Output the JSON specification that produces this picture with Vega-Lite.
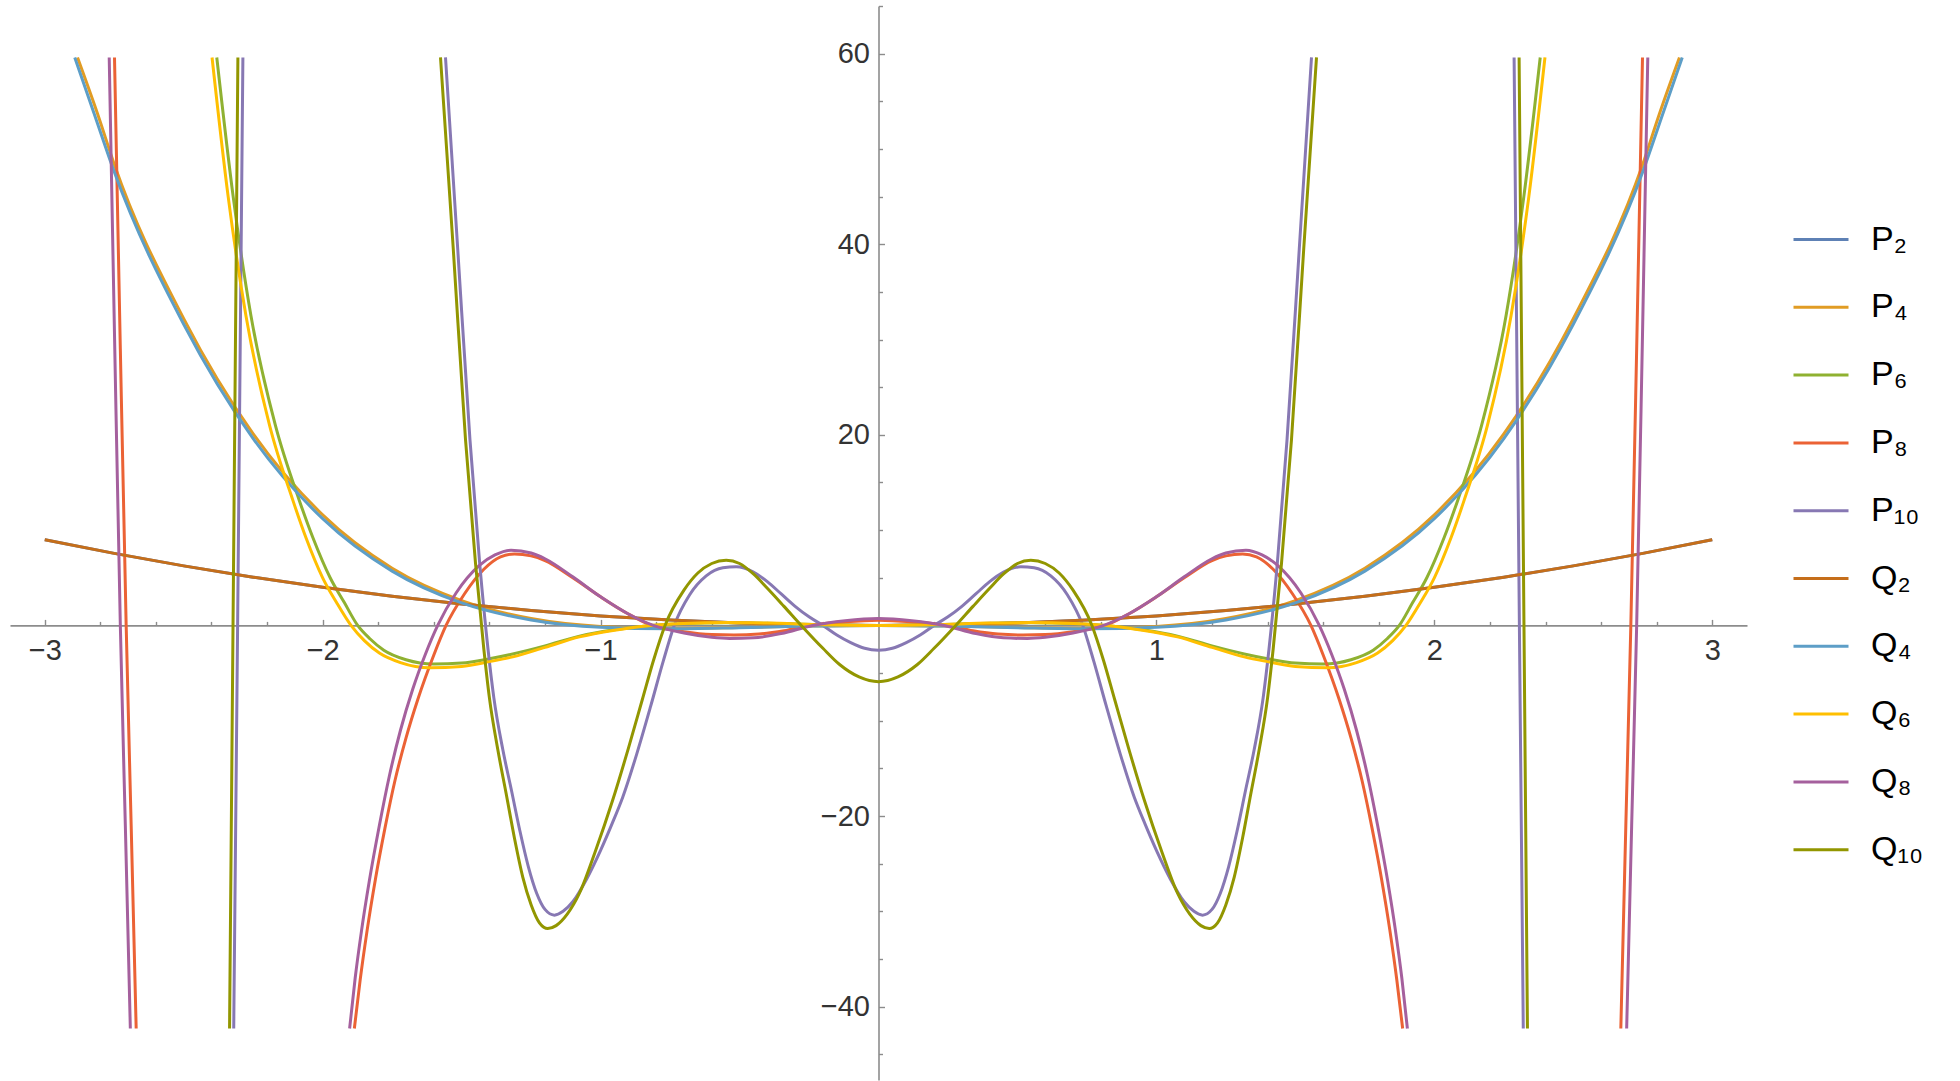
{
"$schema":"https://vega.github.io/schema/vega-lite/v6.json",
"width":1737,"height":1074,
"autosize":{"type":"none"},
"padding":{"left":10,"top":6,"right":213,"bottom":1},
"background":"white",
"config":{"view":{"stroke":null},"axis":{"grid":false,"title":null,"domainColor":"#8c8c8c","tickColor":"#8c8c8c","domainWidth":1.6,"tickWidth":1.4,"labelFont":"Liberation Sans","labelColor":"#333333","labelFontSize":29}},
"resolve":{"axis":{"x":"independent","y":"independent"}},
"layer":[
{"data":{"values":[{"a":0,"b":0}]},"mark":{"type":"point","opacity":0},
"encoding":{
"x":{"field":"a","type":"quantitative","scale":{"domain":[-3.125,3.125],"nice":false,"zero":false},"axis":{"orient":"top","offset":-619.4,"domain":false,"labels":false,"ticks":true,"tickSize":4,"values":[-2.8,-2.6,-2.4,-2.2,-1.8,-1.6,-1.4,-1.2,-0.8,-0.6,-0.4,-0.2,0.2,0.4,0.6,0.8,1.2,1.4,1.6,1.8,2.2,2.4,2.6,2.8]}},
"y":{"field":"b","type":"quantitative","scale":{"domain":[-47.7,65],"nice":false,"zero":false},"axis":{"orient":"right","offset":-868.5,"domain":false,"labels":false,"ticks":true,"tickSize":4,"values":[-45,-35,-30,-25,-15,-10,-5,5,10,15,25,30,35,45,50,55,65]}}}},
{"data":{"values":[{"a":0,"b":0}]},"mark":{"type":"point","opacity":0},
"encoding":{
"x":{"field":"a","type":"quantitative","scale":{"domain":[-3.125,3.125],"nice":false,"zero":false},"axis":{"orient":"top","offset":-619.4,"domain":false,"labels":false,"ticks":true,"tickSize":6,"values":[-3,-2,-1,1,2,3]}},
"y":{"field":"b","type":"quantitative","scale":{"domain":[-47.7,65],"nice":false,"zero":false},"axis":{"orient":"right","offset":-868.5,"domain":false,"labels":false,"ticks":true,"tickSize":6,"values":[-40,-20,20,40,60]}}}},
{"data":{"values":[
{"s":"P₂","g":1,"x":-3,"y":9},{"s":"P₂","g":1,"x":-2.75,"y":7.5625},{"s":"P₂","g":1,"x":-2.5,"y":6.25},{"s":"P₂","g":1,"x":-2.25,"y":5.0625},{"s":"P₂","g":1,"x":-2,"y":4},{"s":"P₂","g":1,"x":-1.75,"y":3.0625},{"s":"P₂","g":1,"x":-1.5,"y":2.25},{"s":"P₂","g":1,"x":-1.25,"y":1.5625},{"s":"P₂","g":1,"x":-1,"y":1},{"s":"P₂","g":1,"x":-0.75,"y":0.5625},{"s":"P₂","g":1,"x":-0.5,"y":0.25},{"s":"P₂","g":1,"x":-0.25,"y":0.0625},{"s":"P₂","g":1,"x":0,"y":0},{"s":"P₂","g":1,"x":0.25,"y":0.0625},{"s":"P₂","g":1,"x":0.5,"y":0.25},{"s":"P₂","g":1,"x":0.75,"y":0.5625},{"s":"P₂","g":1,"x":1,"y":1},{"s":"P₂","g":1,"x":1.25,"y":1.5625},{"s":"P₂","g":1,"x":1.5,"y":2.25},{"s":"P₂","g":1,"x":1.75,"y":3.0625},{"s":"P₂","g":1,"x":2,"y":4},{"s":"P₂","g":1,"x":2.25,"y":5.0625},{"s":"P₂","g":1,"x":2.5,"y":6.25},{"s":"P₂","g":1,"x":2.75,"y":7.5625},{"s":"P₂","g":1,"x":3,"y":9},
{"s":"P₄","g":1,"x":-2.882,"y":59.6},{"s":"P₄","g":1,"x":-2.81,"y":53.7},{"s":"P₄","g":1,"x":-2.75,"y":48.4},{"s":"P₄","g":1,"x":-2.5,"y":32.2},{"s":"P₄","g":1,"x":-2.25,"y":20.1},{"s":"P₄","g":1,"x":-2,"y":11.6},{"s":"P₄","g":1,"x":-1.75,"y":6.0},{"s":"P₄","g":1,"x":-1.5,"y":2.6},{"s":"P₄","g":1,"x":-1.25,"y":0.73},{"s":"P₄","g":1,"x":-1,"y":-0.1},{"s":"P₄","g":1,"x":-0.75,"y":-0.3},{"s":"P₄","g":1,"x":-0.5,"y":-0.22},{"s":"P₄","g":1,"x":-0.25,"y":-0.06},{"s":"P₄","g":1,"x":0,"y":0},{"s":"P₄","g":1,"x":0.25,"y":-0.06},{"s":"P₄","g":1,"x":0.5,"y":-0.22},{"s":"P₄","g":1,"x":0.75,"y":-0.3},{"s":"P₄","g":1,"x":1,"y":-0.1},{"s":"P₄","g":1,"x":1.25,"y":0.73},{"s":"P₄","g":1,"x":1.5,"y":2.6},{"s":"P₄","g":1,"x":1.75,"y":6.0},{"s":"P₄","g":1,"x":2,"y":11.6},{"s":"P₄","g":1,"x":2.25,"y":20.1},{"s":"P₄","g":1,"x":2.5,"y":32.2},{"s":"P₄","g":1,"x":2.75,"y":48.4},{"s":"P₄","g":1,"x":2.81,"y":53.7},{"s":"P₄","g":1,"x":2.882,"y":59.6},
{"s":"P₆","g":1,"x":-2.381,"y":59.6},{"s":"P₆","g":1,"x":-2.322,"y":45},{"s":"P₆","g":1,"x":-2.258,"y":32.5},{"s":"P₆","g":1,"x":-2.17,"y":21},{"s":"P₆","g":1,"x":-2.085,"y":13.2},{"s":"P₆","g":1,"x":-2.035,"y":9.2},{"s":"P₆","g":1,"x":-1.973,"y":5.0},{"s":"P₆","g":1,"x":-1.922,"y":2.4},{"s":"P₆","g":1,"x":-1.874,"y":0},{"s":"P₆","g":1,"x":-1.83,"y":-1.4},{"s":"P₆","g":1,"x":-1.78,"y":-2.6},{"s":"P₆","g":1,"x":-1.7,"y":-3.6},{"s":"P₆","g":1,"x":-1.6,"y":-4.05},{"s":"P₆","g":1,"x":-1.5,"y":-3.95},{"s":"P₆","g":1,"x":-1.4,"y":-3.5},{"s":"P₆","g":1,"x":-1.316,"y":-3.0},{"s":"P₆","g":1,"x":-1.2,"y":-2.15},{"s":"P₆","g":1,"x":-1.076,"y":-1.12},{"s":"P₆","g":1,"x":-0.95,"y":-0.45},{"s":"P₆","g":1,"x":-0.836,"y":-0.05},{"s":"P₆","g":1,"x":-0.7,"y":0.2},{"s":"P₆","g":1,"x":-0.55,"y":0.28},{"s":"P₆","g":1,"x":-0.4,"y":0.23},{"s":"P₆","g":1,"x":-0.2,"y":0.07},{"s":"P₆","g":1,"x":0,"y":0},{"s":"P₆","g":1,"x":0.2,"y":0.07},{"s":"P₆","g":1,"x":0.4,"y":0.23},{"s":"P₆","g":1,"x":0.55,"y":0.28},{"s":"P₆","g":1,"x":0.7,"y":0.2},{"s":"P₆","g":1,"x":0.836,"y":-0.05},{"s":"P₆","g":1,"x":0.95,"y":-0.45},{"s":"P₆","g":1,"x":1.076,"y":-1.12},{"s":"P₆","g":1,"x":1.2,"y":-2.15},{"s":"P₆","g":1,"x":1.316,"y":-3.0},{"s":"P₆","g":1,"x":1.4,"y":-3.5},{"s":"P₆","g":1,"x":1.5,"y":-3.95},{"s":"P₆","g":1,"x":1.6,"y":-4.05},{"s":"P₆","g":1,"x":1.7,"y":-3.6},{"s":"P₆","g":1,"x":1.78,"y":-2.6},{"s":"P₆","g":1,"x":1.83,"y":-1.4},{"s":"P₆","g":1,"x":1.874,"y":0},{"s":"P₆","g":1,"x":1.922,"y":2.4},{"s":"P₆","g":1,"x":1.973,"y":5.0},{"s":"P₆","g":1,"x":2.035,"y":9.2},{"s":"P₆","g":1,"x":2.085,"y":13.2},{"s":"P₆","g":1,"x":2.17,"y":21},{"s":"P₆","g":1,"x":2.258,"y":32.5},{"s":"P₆","g":1,"x":2.322,"y":45},{"s":"P₆","g":1,"x":2.381,"y":59.6},
{"s":"P₈","g":1,"x":-2.749,"y":59.6},{"s":"P₈","g":1,"x":-2.728,"y":29},{"s":"P₈","g":1,"x":-2.707,"y":0},{"s":"P₈","g":1,"x":-2.689,"y":-21},{"s":"P₈","g":1,"x":-2.671,"y":-42.3},
{"s":"P₈","g":2,"x":-1.886,"y":-42.3},{"s":"P₈","g":2,"x":-1.865,"y":-37.2},{"s":"P₈","g":2,"x":-1.84,"y":-32.0},{"s":"P₈","g":2,"x":-1.81,"y":-26.6},{"s":"P₈","g":2,"x":-1.776,"y":-21.3},{"s":"P₈","g":2,"x":-1.74,"y":-16.3},{"s":"P₈","g":2,"x":-1.7,"y":-11.8},{"s":"P₈","g":2,"x":-1.658,"y":-7.8},{"s":"P₈","g":2,"x":-1.6,"y":-3.1},{"s":"P₈","g":2,"x":-1.556,"y":0},{"s":"P₈","g":2,"x":-1.49,"y":3.3},{"s":"P₈","g":2,"x":-1.42,"y":5.9},{"s":"P₈","g":2,"x":-1.36,"y":7.2},{"s":"P₈","g":2,"x":-1.31,"y":7.5},{"s":"P₈","g":2,"x":-1.25,"y":7.3},{"s":"P₈","g":2,"x":-1.2,"y":6.8},{"s":"P₈","g":2,"x":-1.1,"y":5.0},{"s":"P₈","g":2,"x":-1.0,"y":3.0},{"s":"P₈","g":2,"x":-0.9,"y":1.2},{"s":"P₈","g":2,"x":-0.815,"y":0},{"s":"P₈","g":2,"x":-0.7,"y":-0.65},{"s":"P₈","g":2,"x":-0.6,"y":-0.95},{"s":"P₈","g":2,"x":-0.52,"y":-1.0},{"s":"P₈","g":2,"x":-0.43,"y":-0.9},{"s":"P₈","g":2,"x":-0.34,"y":-0.55},{"s":"P₈","g":2,"x":-0.25,"y":0},{"s":"P₈","g":2,"x":-0.12,"y":0.38},{"s":"P₈","g":2,"x":0,"y":0.55},{"s":"P₈","g":2,"x":0.12,"y":0.38},{"s":"P₈","g":2,"x":0.25,"y":0},{"s":"P₈","g":2,"x":0.34,"y":-0.55},{"s":"P₈","g":2,"x":0.43,"y":-0.9},{"s":"P₈","g":2,"x":0.52,"y":-1.0},{"s":"P₈","g":2,"x":0.6,"y":-0.95},{"s":"P₈","g":2,"x":0.7,"y":-0.65},{"s":"P₈","g":2,"x":0.815,"y":0},{"s":"P₈","g":2,"x":0.9,"y":1.2},{"s":"P₈","g":2,"x":1.0,"y":3.0},{"s":"P₈","g":2,"x":1.1,"y":5.0},{"s":"P₈","g":2,"x":1.2,"y":6.8},{"s":"P₈","g":2,"x":1.25,"y":7.3},{"s":"P₈","g":2,"x":1.31,"y":7.5},{"s":"P₈","g":2,"x":1.36,"y":7.2},{"s":"P₈","g":2,"x":1.42,"y":5.9},{"s":"P₈","g":2,"x":1.49,"y":3.3},{"s":"P₈","g":2,"x":1.556,"y":0},{"s":"P₈","g":2,"x":1.6,"y":-3.1},{"s":"P₈","g":2,"x":1.658,"y":-7.8},{"s":"P₈","g":2,"x":1.7,"y":-11.8},{"s":"P₈","g":2,"x":1.74,"y":-16.3},{"s":"P₈","g":2,"x":1.776,"y":-21.3},{"s":"P₈","g":2,"x":1.81,"y":-26.6},{"s":"P₈","g":2,"x":1.84,"y":-32.0},{"s":"P₈","g":2,"x":1.865,"y":-37.2},{"s":"P₈","g":2,"x":1.886,"y":-42.3},
{"s":"P₈","g":3,"x":2.671,"y":-42.3},{"s":"P₈","g":3,"x":2.689,"y":-21},{"s":"P₈","g":3,"x":2.707,"y":0},{"s":"P₈","g":3,"x":2.728,"y":29},{"s":"P₈","g":3,"x":2.749,"y":59.6},
{"s":"P₁₀","g":1,"x":-2.32,"y":-42.3},{"s":"P₁₀","g":1,"x":-2.306,"y":0},{"s":"P₁₀","g":1,"x":-2.287,"y":59.6},
{"s":"P₁₀","g":2,"x":-1.558,"y":59.6},{"s":"P₁₀","g":2,"x":-1.514,"y":39.5},{"s":"P₁₀","g":2,"x":-1.47,"y":19.5},{"s":"P₁₀","g":2,"x":-1.435,"y":6.5},{"s":"P₁₀","g":2,"x":-1.405,"y":-2.5},{"s":"P₁₀","g":2,"x":-1.384,"y":-7.6},{"s":"P₁₀","g":2,"x":-1.352,"y":-13},{"s":"P₁₀","g":2,"x":-1.32,"y":-17.4},{"s":"P₁₀","g":2,"x":-1.29,"y":-21.6},{"s":"P₁₀","g":2,"x":-1.26,"y":-25.3},{"s":"P₁₀","g":2,"x":-1.23,"y":-28.1},{"s":"P₁₀","g":2,"x":-1.2,"y":-29.8},{"s":"P₁₀","g":2,"x":-1.166,"y":-30.4},{"s":"P₁₀","g":2,"x":-1.135,"y":-30.0},{"s":"P₁₀","g":2,"x":-1.1,"y":-29.0},{"s":"P₁₀","g":2,"x":-1.05,"y":-26.6},{"s":"P₁₀","g":2,"x":-1.0,"y":-23.6},{"s":"P₁₀","g":2,"x":-0.96,"y":-20.9},{"s":"P₁₀","g":2,"x":-0.92,"y":-18.0},{"s":"P₁₀","g":2,"x":-0.87,"y":-13.5},{"s":"P₁₀","g":2,"x":-0.82,"y":-8.5},{"s":"P₁₀","g":2,"x":-0.775,"y":-3.8},{"s":"P₁₀","g":2,"x":-0.735,"y":0},{"s":"P₁₀","g":2,"x":-0.68,"y":3.2},{"s":"P₁₀","g":2,"x":-0.62,"y":5.2},{"s":"P₁₀","g":2,"x":-0.56,"y":6.05},{"s":"P₁₀","g":2,"x":-0.512,"y":6.15},{"s":"P₁₀","g":2,"x":-0.45,"y":5.6},{"s":"P₁₀","g":2,"x":-0.4,"y":4.6},{"s":"P₁₀","g":2,"x":-0.35,"y":3.3},{"s":"P₁₀","g":2,"x":-0.3,"y":2.0},{"s":"P₁₀","g":2,"x":-0.25,"y":0.9},{"s":"P₁₀","g":2,"x":-0.2,"y":0},{"s":"P₁₀","g":2,"x":-0.15,"y":-1.0},{"s":"P₁₀","g":2,"x":-0.1,"y":-1.8},{"s":"P₁₀","g":2,"x":-0.05,"y":-2.4},{"s":"P₁₀","g":2,"x":0,"y":-2.6},{"s":"P₁₀","g":2,"x":0.05,"y":-2.4},{"s":"P₁₀","g":2,"x":0.1,"y":-1.8},{"s":"P₁₀","g":2,"x":0.15,"y":-1.0},{"s":"P₁₀","g":2,"x":0.2,"y":0},{"s":"P₁₀","g":2,"x":0.25,"y":0.9},{"s":"P₁₀","g":2,"x":0.3,"y":2.0},{"s":"P₁₀","g":2,"x":0.35,"y":3.3},{"s":"P₁₀","g":2,"x":0.4,"y":4.6},{"s":"P₁₀","g":2,"x":0.45,"y":5.6},{"s":"P₁₀","g":2,"x":0.512,"y":6.15},{"s":"P₁₀","g":2,"x":0.56,"y":6.05},{"s":"P₁₀","g":2,"x":0.62,"y":5.2},{"s":"P₁₀","g":2,"x":0.68,"y":3.2},{"s":"P₁₀","g":2,"x":0.735,"y":0},{"s":"P₁₀","g":2,"x":0.775,"y":-3.8},{"s":"P₁₀","g":2,"x":0.82,"y":-8.5},{"s":"P₁₀","g":2,"x":0.87,"y":-13.5},{"s":"P₁₀","g":2,"x":0.92,"y":-18.0},{"s":"P₁₀","g":2,"x":0.96,"y":-20.9},{"s":"P₁₀","g":2,"x":1.0,"y":-23.6},{"s":"P₁₀","g":2,"x":1.05,"y":-26.6},{"s":"P₁₀","g":2,"x":1.1,"y":-29.0},{"s":"P₁₀","g":2,"x":1.135,"y":-30.0},{"s":"P₁₀","g":2,"x":1.166,"y":-30.4},{"s":"P₁₀","g":2,"x":1.2,"y":-29.8},{"s":"P₁₀","g":2,"x":1.23,"y":-28.1},{"s":"P₁₀","g":2,"x":1.26,"y":-25.3},{"s":"P₁₀","g":2,"x":1.29,"y":-21.6},{"s":"P₁₀","g":2,"x":1.32,"y":-17.4},{"s":"P₁₀","g":2,"x":1.352,"y":-13},{"s":"P₁₀","g":2,"x":1.384,"y":-7.6},{"s":"P₁₀","g":2,"x":1.405,"y":-2.5},{"s":"P₁₀","g":2,"x":1.435,"y":6.5},{"s":"P₁₀","g":2,"x":1.47,"y":19.5},{"s":"P₁₀","g":2,"x":1.514,"y":39.5},{"s":"P₁₀","g":2,"x":1.558,"y":59.6},
{"s":"P₁₀","g":3,"x":2.287,"y":59.6},{"s":"P₁₀","g":3,"x":2.306,"y":0},{"s":"P₁₀","g":3,"x":2.32,"y":-42.3},
{"s":"Q₂","g":1,"x":-3,"y":9},{"s":"Q₂","g":1,"x":-2.75,"y":7.5625},{"s":"Q₂","g":1,"x":-2.5,"y":6.25},{"s":"Q₂","g":1,"x":-2.25,"y":5.0625},{"s":"Q₂","g":1,"x":-2,"y":4},{"s":"Q₂","g":1,"x":-1.75,"y":3.0625},{"s":"Q₂","g":1,"x":-1.5,"y":2.25},{"s":"Q₂","g":1,"x":-1.25,"y":1.5625},{"s":"Q₂","g":1,"x":-1,"y":1},{"s":"Q₂","g":1,"x":-0.75,"y":0.5625},{"s":"Q₂","g":1,"x":-0.5,"y":0.25},{"s":"Q₂","g":1,"x":-0.25,"y":0.0625},{"s":"Q₂","g":1,"x":0,"y":0},{"s":"Q₂","g":1,"x":0.25,"y":0.0625},{"s":"Q₂","g":1,"x":0.5,"y":0.25},{"s":"Q₂","g":1,"x":0.75,"y":0.5625},{"s":"Q₂","g":1,"x":1,"y":1},{"s":"Q₂","g":1,"x":1.25,"y":1.5625},{"s":"Q₂","g":1,"x":1.5,"y":2.25},{"s":"Q₂","g":1,"x":1.75,"y":3.0625},{"s":"Q₂","g":1,"x":2,"y":4},{"s":"Q₂","g":1,"x":2.25,"y":5.0625},{"s":"Q₂","g":1,"x":2.5,"y":6.25},{"s":"Q₂","g":1,"x":2.75,"y":7.5625},{"s":"Q₂","g":1,"x":3,"y":9},
{"s":"Q₄","g":1,"x":-2.892,"y":59.6},{"s":"Q₄","g":1,"x":-2.82,"y":53.5},{"s":"Q₄","g":1,"x":-2.75,"y":47.6},{"s":"Q₄","g":1,"x":-2.5,"y":31.6},{"s":"Q₄","g":1,"x":-2.25,"y":19.6},{"s":"Q₄","g":1,"x":-2,"y":11.2},{"s":"Q₄","g":1,"x":-1.75,"y":5.7},{"s":"Q₄","g":1,"x":-1.5,"y":2.36},{"s":"Q₄","g":1,"x":-1.25,"y":0.57},{"s":"Q₄","g":1,"x":-1,"y":-0.2},{"s":"Q₄","g":1,"x":-0.75,"y":-0.36},{"s":"Q₄","g":1,"x":-0.5,"y":-0.24},{"s":"Q₄","g":1,"x":-0.25,"y":-0.07},{"s":"Q₄","g":1,"x":0,"y":0},{"s":"Q₄","g":1,"x":0.25,"y":-0.07},{"s":"Q₄","g":1,"x":0.5,"y":-0.24},{"s":"Q₄","g":1,"x":0.75,"y":-0.36},{"s":"Q₄","g":1,"x":1,"y":-0.2},{"s":"Q₄","g":1,"x":1.25,"y":0.57},{"s":"Q₄","g":1,"x":1.5,"y":2.36},{"s":"Q₄","g":1,"x":1.75,"y":5.7},{"s":"Q₄","g":1,"x":2,"y":11.2},{"s":"Q₄","g":1,"x":2.25,"y":19.6},{"s":"Q₄","g":1,"x":2.5,"y":31.6},{"s":"Q₄","g":1,"x":2.75,"y":47.6},{"s":"Q₄","g":1,"x":2.82,"y":53.5},{"s":"Q₄","g":1,"x":2.892,"y":59.6},
{"s":"Q₆","g":1,"x":-2.398,"y":59.6},{"s":"Q₆","g":1,"x":-2.34,"y":45},{"s":"Q₆","g":1,"x":-2.276,"y":32.5},{"s":"Q₆","g":1,"x":-2.191,"y":21},{"s":"Q₆","g":1,"x":-2.108,"y":13.2},{"s":"Q₆","g":1,"x":-2.06,"y":9.2},{"s":"Q₆","g":1,"x":-2.0,"y":5.0},{"s":"Q₆","g":1,"x":-1.95,"y":2.4},{"s":"Q₆","g":1,"x":-1.898,"y":0},{"s":"Q₆","g":1,"x":-1.85,"y":-1.6},{"s":"Q₆","g":1,"x":-1.796,"y":-2.9},{"s":"Q₆","g":1,"x":-1.72,"y":-3.9},{"s":"Q₆","g":1,"x":-1.616,"y":-4.45},{"s":"Q₆","g":1,"x":-1.5,"y":-4.3},{"s":"Q₆","g":1,"x":-1.4,"y":-3.8},{"s":"Q₆","g":1,"x":-1.316,"y":-3.3},{"s":"Q₆","g":1,"x":-1.2,"y":-2.3},{"s":"Q₆","g":1,"x":-1.076,"y":-1.2},{"s":"Q₆","g":1,"x":-0.95,"y":-0.5},{"s":"Q₆","g":1,"x":-0.836,"y":-0.05},{"s":"Q₆","g":1,"x":-0.7,"y":0.2},{"s":"Q₆","g":1,"x":-0.55,"y":0.3},{"s":"Q₆","g":1,"x":-0.4,"y":0.25},{"s":"Q₆","g":1,"x":-0.2,"y":0.08},{"s":"Q₆","g":1,"x":0,"y":0},{"s":"Q₆","g":1,"x":0.2,"y":0.08},{"s":"Q₆","g":1,"x":0.4,"y":0.25},{"s":"Q₆","g":1,"x":0.55,"y":0.3},{"s":"Q₆","g":1,"x":0.7,"y":0.2},{"s":"Q₆","g":1,"x":0.836,"y":-0.05},{"s":"Q₆","g":1,"x":0.95,"y":-0.5},{"s":"Q₆","g":1,"x":1.076,"y":-1.2},{"s":"Q₆","g":1,"x":1.2,"y":-2.3},{"s":"Q₆","g":1,"x":1.316,"y":-3.3},{"s":"Q₆","g":1,"x":1.4,"y":-3.8},{"s":"Q₆","g":1,"x":1.5,"y":-4.3},{"s":"Q₆","g":1,"x":1.616,"y":-4.45},{"s":"Q₆","g":1,"x":1.72,"y":-3.9},{"s":"Q₆","g":1,"x":1.796,"y":-2.9},{"s":"Q₆","g":1,"x":1.85,"y":-1.6},{"s":"Q₆","g":1,"x":1.898,"y":0},{"s":"Q₆","g":1,"x":1.95,"y":2.4},{"s":"Q₆","g":1,"x":2.0,"y":5.0},{"s":"Q₆","g":1,"x":2.06,"y":9.2},{"s":"Q₆","g":1,"x":2.108,"y":13.2},{"s":"Q₆","g":1,"x":2.191,"y":21},{"s":"Q₆","g":1,"x":2.276,"y":32.5},{"s":"Q₆","g":1,"x":2.34,"y":45},{"s":"Q₆","g":1,"x":2.398,"y":59.6},
{"s":"Q₈","g":1,"x":-2.768,"y":59.6},{"s":"Q₈","g":1,"x":-2.748,"y":29},{"s":"Q₈","g":1,"x":-2.728,"y":0},{"s":"Q₈","g":1,"x":-2.71,"y":-21},{"s":"Q₈","g":1,"x":-2.692,"y":-42.3},
{"s":"Q₈","g":2,"x":-1.903,"y":-42.3},{"s":"Q₈","g":2,"x":-1.883,"y":-37.0},{"s":"Q₈","g":2,"x":-1.86,"y":-32.0},{"s":"Q₈","g":2,"x":-1.832,"y":-26.8},{"s":"Q₈","g":2,"x":-1.796,"y":-21.0},{"s":"Q₈","g":2,"x":-1.76,"y":-15.8},{"s":"Q₈","g":2,"x":-1.72,"y":-11.0},{"s":"Q₈","g":2,"x":-1.676,"y":-6.7},{"s":"Q₈","g":2,"x":-1.63,"y":-3.0},{"s":"Q₈","g":2,"x":-1.586,"y":0},{"s":"Q₈","g":2,"x":-1.52,"y":3.4},{"s":"Q₈","g":2,"x":-1.436,"y":6.3},{"s":"Q₈","g":2,"x":-1.38,"y":7.4},{"s":"Q₈","g":2,"x":-1.322,"y":7.9},{"s":"Q₈","g":2,"x":-1.25,"y":7.6},{"s":"Q₈","g":2,"x":-1.2,"y":7.0},{"s":"Q₈","g":2,"x":-1.1,"y":5.1},{"s":"Q₈","g":2,"x":-1.0,"y":3.0},{"s":"Q₈","g":2,"x":-0.9,"y":1.2},{"s":"Q₈","g":2,"x":-0.81,"y":0},{"s":"Q₈","g":2,"x":-0.7,"y":-0.8},{"s":"Q₈","g":2,"x":-0.6,"y":-1.25},{"s":"Q₈","g":2,"x":-0.536,"y":-1.37},{"s":"Q₈","g":2,"x":-0.45,"y":-1.3},{"s":"Q₈","g":2,"x":-0.35,"y":-0.85},{"s":"Q₈","g":2,"x":-0.237,"y":0},{"s":"Q₈","g":2,"x":-0.12,"y":0.5},{"s":"Q₈","g":2,"x":0,"y":0.73},{"s":"Q₈","g":2,"x":0.12,"y":0.5},{"s":"Q₈","g":2,"x":0.237,"y":0},{"s":"Q₈","g":2,"x":0.35,"y":-0.85},{"s":"Q₈","g":2,"x":0.45,"y":-1.3},{"s":"Q₈","g":2,"x":0.536,"y":-1.37},{"s":"Q₈","g":2,"x":0.6,"y":-1.25},{"s":"Q₈","g":2,"x":0.7,"y":-0.8},{"s":"Q₈","g":2,"x":0.81,"y":0},{"s":"Q₈","g":2,"x":0.9,"y":1.2},{"s":"Q₈","g":2,"x":1.0,"y":3.0},{"s":"Q₈","g":2,"x":1.1,"y":5.1},{"s":"Q₈","g":2,"x":1.2,"y":7.0},{"s":"Q₈","g":2,"x":1.25,"y":7.6},{"s":"Q₈","g":2,"x":1.322,"y":7.9},{"s":"Q₈","g":2,"x":1.38,"y":7.4},{"s":"Q₈","g":2,"x":1.436,"y":6.3},{"s":"Q₈","g":2,"x":1.52,"y":3.4},{"s":"Q₈","g":2,"x":1.586,"y":0},{"s":"Q₈","g":2,"x":1.63,"y":-3.0},{"s":"Q₈","g":2,"x":1.676,"y":-6.7},{"s":"Q₈","g":2,"x":1.72,"y":-11.0},{"s":"Q₈","g":2,"x":1.76,"y":-15.8},{"s":"Q₈","g":2,"x":1.796,"y":-21.0},{"s":"Q₈","g":2,"x":1.832,"y":-26.8},{"s":"Q₈","g":2,"x":1.86,"y":-32.0},{"s":"Q₈","g":2,"x":1.883,"y":-37.0},{"s":"Q₈","g":2,"x":1.903,"y":-42.3},
{"s":"Q₈","g":3,"x":2.692,"y":-42.3},{"s":"Q₈","g":3,"x":2.71,"y":-21},{"s":"Q₈","g":3,"x":2.728,"y":0},{"s":"Q₈","g":3,"x":2.748,"y":29},{"s":"Q₈","g":3,"x":2.768,"y":59.6},
{"s":"Q₁₀","g":1,"x":-2.335,"y":-42.3},{"s":"Q₁₀","g":1,"x":-2.3225,"y":0},{"s":"Q₁₀","g":1,"x":-2.305,"y":59.6},
{"s":"Q₁₀","g":2,"x":-1.576,"y":59.6},{"s":"Q₁₀","g":2,"x":-1.53,"y":39.5},{"s":"Q₁₀","g":2,"x":-1.486,"y":19.5},{"s":"Q₁₀","g":2,"x":-1.45,"y":6.5},{"s":"Q₁₀","g":2,"x":-1.42,"y":-2.5},{"s":"Q₁₀","g":2,"x":-1.4,"y":-7.6},{"s":"Q₁₀","g":2,"x":-1.37,"y":-13},{"s":"Q₁₀","g":2,"x":-1.34,"y":-17.6},{"s":"Q₁₀","g":2,"x":-1.31,"y":-22.3},{"s":"Q₁₀","g":2,"x":-1.28,"y":-26.4},{"s":"Q₁₀","g":2,"x":-1.25,"y":-29.3},{"s":"Q₁₀","g":2,"x":-1.22,"y":-31.2},{"s":"Q₁₀","g":2,"x":-1.19,"y":-31.8},{"s":"Q₁₀","g":2,"x":-1.16,"y":-31.5},{"s":"Q₁₀","g":2,"x":-1.12,"y":-30.3},{"s":"Q₁₀","g":2,"x":-1.076,"y":-28.1},{"s":"Q₁₀","g":2,"x":-1.02,"y":-23.8},{"s":"Q₁₀","g":2,"x":-0.956,"y":-18.3},{"s":"Q₁₀","g":2,"x":-0.9,"y":-12.9},{"s":"Q₁₀","g":2,"x":-0.85,"y":-7.8},{"s":"Q₁₀","g":2,"x":-0.81,"y":-3.7},{"s":"Q₁₀","g":2,"x":-0.768,"y":0},{"s":"Q₁₀","g":2,"x":-0.7,"y":3.7},{"s":"Q₁₀","g":2,"x":-0.65,"y":5.5},{"s":"Q₁₀","g":2,"x":-0.6,"y":6.5},{"s":"Q₁₀","g":2,"x":-0.548,"y":6.85},{"s":"Q₁₀","g":2,"x":-0.5,"y":6.5},{"s":"Q₁₀","g":2,"x":-0.45,"y":5.4},{"s":"Q₁₀","g":2,"x":-0.4,"y":3.9},{"s":"Q₁₀","g":2,"x":-0.34,"y":2.0},{"s":"Q₁₀","g":2,"x":-0.278,"y":0},{"s":"Q₁₀","g":2,"x":-0.2,"y":-2.4},{"s":"Q₁₀","g":2,"x":-0.14,"y":-4.1},{"s":"Q₁₀","g":2,"x":-0.07,"y":-5.4},{"s":"Q₁₀","g":2,"x":0,"y":-5.9},{"s":"Q₁₀","g":2,"x":0.07,"y":-5.4},{"s":"Q₁₀","g":2,"x":0.14,"y":-4.1},{"s":"Q₁₀","g":2,"x":0.2,"y":-2.4},{"s":"Q₁₀","g":2,"x":0.278,"y":0},{"s":"Q₁₀","g":2,"x":0.34,"y":2.0},{"s":"Q₁₀","g":2,"x":0.4,"y":3.9},{"s":"Q₁₀","g":2,"x":0.45,"y":5.4},{"s":"Q₁₀","g":2,"x":0.5,"y":6.5},{"s":"Q₁₀","g":2,"x":0.548,"y":6.85},{"s":"Q₁₀","g":2,"x":0.6,"y":6.5},{"s":"Q₁₀","g":2,"x":0.65,"y":5.5},{"s":"Q₁₀","g":2,"x":0.7,"y":3.7},{"s":"Q₁₀","g":2,"x":0.768,"y":0},{"s":"Q₁₀","g":2,"x":0.81,"y":-3.7},{"s":"Q₁₀","g":2,"x":0.85,"y":-7.8},{"s":"Q₁₀","g":2,"x":0.9,"y":-12.9},{"s":"Q₁₀","g":2,"x":0.956,"y":-18.3},{"s":"Q₁₀","g":2,"x":1.02,"y":-23.8},{"s":"Q₁₀","g":2,"x":1.076,"y":-28.1},{"s":"Q₁₀","g":2,"x":1.12,"y":-30.3},{"s":"Q₁₀","g":2,"x":1.16,"y":-31.5},{"s":"Q₁₀","g":2,"x":1.19,"y":-31.8},{"s":"Q₁₀","g":2,"x":1.22,"y":-31.2},{"s":"Q₁₀","g":2,"x":1.25,"y":-29.3},{"s":"Q₁₀","g":2,"x":1.28,"y":-26.4},{"s":"Q₁₀","g":2,"x":1.31,"y":-22.3},{"s":"Q₁₀","g":2,"x":1.34,"y":-17.6},{"s":"Q₁₀","g":2,"x":1.37,"y":-13},{"s":"Q₁₀","g":2,"x":1.4,"y":-7.6},{"s":"Q₁₀","g":2,"x":1.42,"y":-2.5},{"s":"Q₁₀","g":2,"x":1.45,"y":6.5},{"s":"Q₁₀","g":2,"x":1.486,"y":19.5},{"s":"Q₁₀","g":2,"x":1.53,"y":39.5},{"s":"Q₁₀","g":2,"x":1.576,"y":59.6},
{"s":"Q₁₀","g":3,"x":2.305,"y":59.6},{"s":"Q₁₀","g":3,"x":2.3225,"y":0},{"s":"Q₁₀","g":3,"x":2.335,"y":-42.3}
]},
"mark":{"type":"line","interpolate":"monotone","strokeWidth":3,"clip":true},
"encoding":{
"x":{"field":"x","type":"quantitative","scale":{"domain":[-3.125,3.125],"nice":false,"zero":false},"axis":{"orient":"bottom","offset":-454.6,"domain":true,"ticks":false,"labels":true,"labelPadding":11,"format":"d","values":[-3,-2,-1,1,2,3]}},
"y":{"field":"y","type":"quantitative","scale":{"domain":[-47.7,65],"nice":false,"zero":false},"axis":{"orient":"left","offset":-868.5,"domain":true,"ticks":false,"labels":true,"labelPadding":9,"format":"d","values":[-40,-20,20,40,60]}},
"color":{"field":"s","type":"nominal","scale":{"domain":["P₂","P₄","P₆","P₈","P₁₀","Q₂","Q₄","Q₆","Q₈","Q₁₀"],"range":["#5E81B5","#E19C24","#8FB131","#EB6235","#8778B3","#C56E1A","#5D9EC7","#FFBF00","#A5609D","#929600"]},"legend":{"orient":"none","legendX":1782,"legendY":204.5,"title":null,"symbolType":"stroke","symbolSize":3025,"symbolStrokeWidth":3,"labelFont":"Liberation Sans","labelFontSize":34,"labelColor":"#000000","labelOffset":21,"rowPadding":21.8,"padding":0}},
"detail":{"field":"g","type":"nominal"}
}}
]
}
